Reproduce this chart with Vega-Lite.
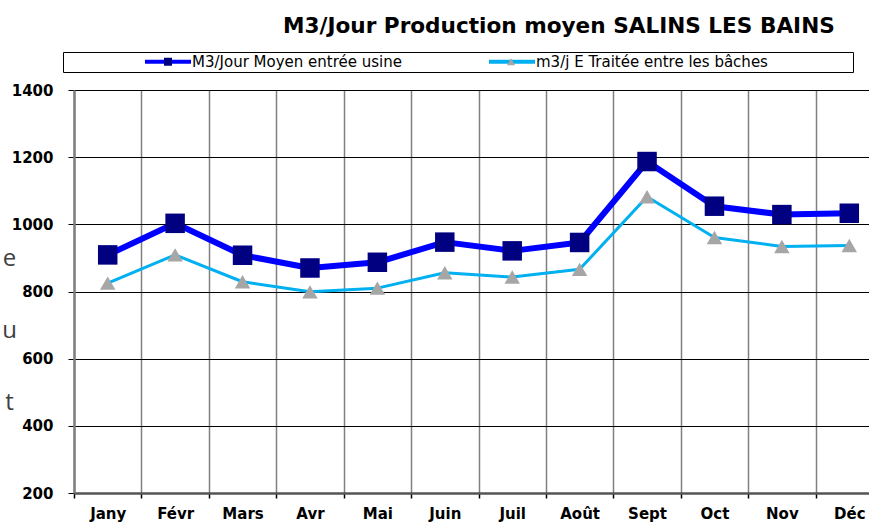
{
  "$schema": "https://vega.github.io/schema/vega-lite/v6.json",
  "autosize": {"type": "none"},
  "padding": {"left": 74, "top": 90, "right": 0, "bottom": 30},
  "width": 795,
  "height": 403,
  "background": "white",
  "title": {
    "text": "M3/Jour Production moyen SALINS LES BAINS",
    "anchor": "start",
    "frame": "group",
    "dx": 209,
    "offset": 14,
    "font": "DejaVu Sans",
    "fontSize": 21.6,
    "fontWeight": "bold",
    "color": "#000000"
  },
  "config": {"view": {"stroke": null}},
  "data": {
    "values": [
      {"month": "Jany", "series": "M3/Jour Moyen entrée usine", "value": 909},
      {"month": "Févr", "series": "M3/Jour Moyen entrée usine", "value": 1003},
      {"month": "Mars", "series": "M3/Jour Moyen entrée usine", "value": 908},
      {"month": "Avr", "series": "M3/Jour Moyen entrée usine", "value": 870},
      {"month": "Mai", "series": "M3/Jour Moyen entrée usine", "value": 887},
      {"month": "Juin", "series": "M3/Jour Moyen entrée usine", "value": 947},
      {"month": "Juil", "series": "M3/Jour Moyen entrée usine", "value": 921},
      {"month": "Août", "series": "M3/Jour Moyen entrée usine", "value": 946},
      {"month": "Sept", "series": "M3/Jour Moyen entrée usine", "value": 1187},
      {"month": "Oct", "series": "M3/Jour Moyen entrée usine", "value": 1054},
      {"month": "Nov", "series": "M3/Jour Moyen entrée usine", "value": 1029},
      {"month": "Déc", "series": "M3/Jour Moyen entrée usine", "value": 1033},
      {"month": "Jany", "series": "m3/j E Traitée entre les bâches", "value": 825},
      {"month": "Févr", "series": "m3/j E Traitée entre les bâches", "value": 909},
      {"month": "Mars", "series": "m3/j E Traitée entre les bâches", "value": 829},
      {"month": "Avr", "series": "m3/j E Traitée entre les bâches", "value": 799},
      {"month": "Mai", "series": "m3/j E Traitée entre les bâches", "value": 810},
      {"month": "Juin", "series": "m3/j E Traitée entre les bâches", "value": 856},
      {"month": "Juil", "series": "m3/j E Traitée entre les bâches", "value": 843},
      {"month": "Août", "series": "m3/j E Traitée entre les bâches", "value": 866},
      {"month": "Sept", "series": "m3/j E Traitée entre les bâches", "value": 1082},
      {"month": "Oct", "series": "m3/j E Traitée entre les bâches", "value": 961},
      {"month": "Nov", "series": "m3/j E Traitée entre les bâches", "value": 934},
      {"month": "Déc", "series": "m3/j E Traitée entre les bâches", "value": 937}
    ]
  },
  "encoding": {
    "x": {
      "field": "month",
      "type": "nominal",
      "sort": ["Jany", "Févr", "Mars", "Avr", "Mai", "Juin", "Juil", "Août", "Sept", "Oct", "Nov", "Déc"],
      "scale": {"range": [0, 809], "paddingInner": 0, "paddingOuter": 0},
      "axis": {
        "title": null,
        "tickBand": "extent",
        "labelAngle": 0,
        "labelFont": "DejaVu Sans",
        "labelFontSize": 15,
        "labelFontWeight": "bold",
        "labelColor": "#000000",
        "labelPadding": 8,
        "tickSize": 5,
        "tickColor": "#000000",
        "tickWidth": 1.5,
        "domainColor": "#555555",
        "domainWidth": 2.5,
        "grid": true,
        "gridColor": "#808080",
        "gridWidth": 1.5
      }
    },
    "y": {
      "field": "value",
      "type": "quantitative",
      "scale": {"domain": [200, 1400], "nice": false, "zero": false},
      "axis": {
        "values": [200, 400, 600, 800, 1000, 1200, 1400],
        "format": "d",
        "title": ["e", "u", "t"],
        "titleAngle": 0,
        "titleAlign": "center",
        "titleBaseline": "alphabetic",
        "titleX": -65,
        "titleY": 175,
        "titleLineHeight": 72,
        "titleFont": "Open Sans",
        "titleFontSize": 24,
        "titleFontWeight": "normal",
        "titleColor": "#404040",
        "labelFont": "DejaVu Sans",
        "labelFontSize": 15,
        "labelFontWeight": "bold",
        "labelColor": "#000000",
        "labelPadding": 15,
        "tickSize": 6,
        "tickColor": "#000000",
        "domainColor": "#808080",
        "domainWidth": 2.5,
        "grid": true,
        "gridColor": "#000000",
        "gridWidth": 1
      }
    }
  },
  "layer": [
    {
      "transform": [{"filter": "datum.series === 'm3/j E Traitée entre les bâches'"}],
      "mark": {"type": "line", "strokeWidth": 3, "strokeJoin": "round"},
      "encoding": {
        "color": {
          "field": "series",
          "type": "nominal",
          "scale": {"range": ["#0000FF", "#00B0F0"]},
          "legend": {
            "orient": "none",
            "legendX": -11,
            "legendY": -38,
            "direction": "horizontal",
            "title": "\u2800",
            "titleOrient": "left",
            "titleFont": "DejaVu Sans",
            "titleFontSize": 15,
            "titleFontWeight": "normal",
            "titleColor": "#ffffff",
            "titlePadding": 67,
            "padding": 2,
            "strokeColor": "#000000",
            "fillColor": "#ffffff",
            "symbolType": "stroke",
            "symbolSize": 2116,
            "symbolStrokeWidth": 4,
            "clipHeight": 15,
            "labelFont": "DejaVu Sans",
            "labelFontSize": 15,
            "labelColor": "#000000",
            "labelOffset": -1,
            "labelLimit": 0,
            "columnPadding": 85,
            "labelExpr": "datum.value === 'm3/j E Traitée entre les bâches' ? datum.label + '\u00a0\u00a0\u00a0\u00a0\u00a0\u00a0\u00a0\u00a0\u00a0\u00a0\u00a0\u00a0\u00a0\u00a0\u00a0\u2800' : datum.label"
          }
        }
      }
    },
    {
      "transform": [{"filter": "datum.series === 'M3/Jour Moyen entrée usine'"}],
      "mark": {"type": "line", "strokeWidth": 6, "strokeJoin": "round"},
      "encoding": {
        "color": {"field": "series", "type": "nominal"}
      }
    },
    {
      "transform": [{"filter": "datum.series === 'm3/j E Traitée entre les bâches'"}],
      "mark": {"type": "point", "filled": true, "opacity": 1, "size": 240},
      "encoding": {
        "shape": {
          "field": "series",
          "type": "nominal",
          "scale": {"domain": ["M3/Jour Moyen entrée usine", "m3/j E Traitée entre les bâches"], "range": ["square", "triangle-up"]},
          "legend": {
            "orient": "none",
            "legendX": -11,
            "legendY": -38,
            "direction": "horizontal",
            "title": "\u2800",
            "titleOrient": "left",
            "titleFont": "DejaVu Sans",
            "titleFontSize": 15,
            "titleFontWeight": "normal",
            "titleColor": "#ffffff",
            "titlePadding": 67,
            "padding": 2,
            "strokeColor": null,
            "fillColor": null,
            "symbolSize": 64,
            "symbolStrokeWidth": 0,
            "symbolOffset": 17.5,
            "clipHeight": 15,
            "labelFont": "DejaVu Sans",
            "labelFontSize": 15,
            "labelOpacity": 0,
            "labelExpr": "''",
            "labelOffset": 34,
            "labelLimit": 0,
            "columnPadding": 276
          }
        },
        "fill": {
          "field": "series",
          "type": "nominal",
          "scale": {"domain": ["M3/Jour Moyen entrée usine", "m3/j E Traitée entre les bâches"], "range": ["#000080", "#A6A6A6"]}
        }
      }
    },
    {
      "transform": [{"filter": "datum.series === 'M3/Jour Moyen entrée usine'"}],
      "mark": {"type": "point", "filled": true, "opacity": 1, "size": 380},
      "encoding": {
        "shape": {"field": "series", "type": "nominal"},
        "fill": {"field": "series", "type": "nominal"}
      }
    }
  ]
}
